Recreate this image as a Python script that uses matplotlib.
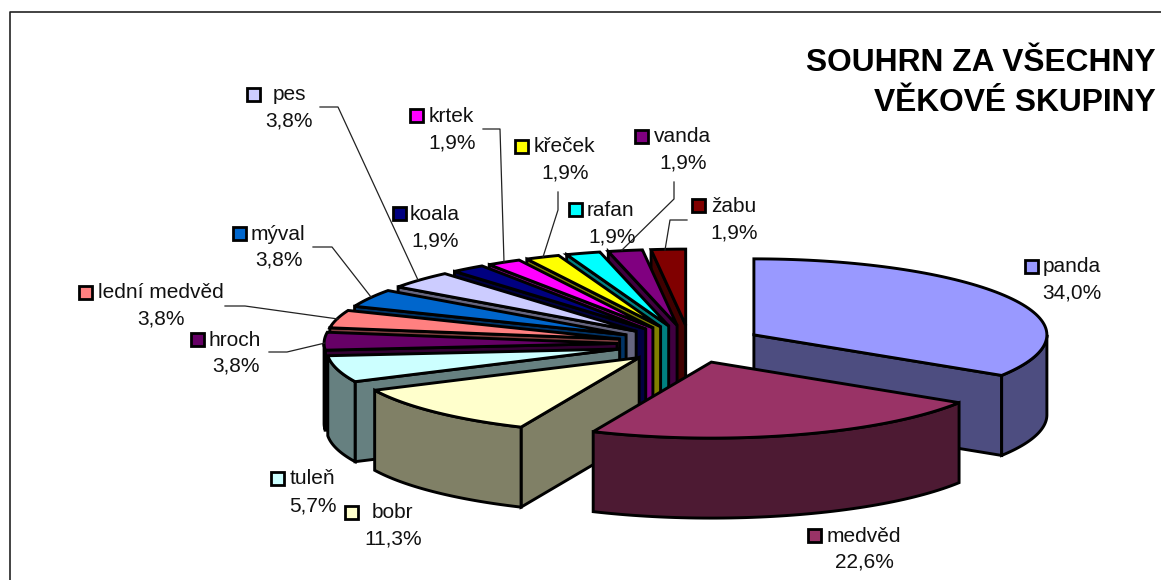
import numpy as np
import matplotlib
matplotlib.use("Agg")
import matplotlib.pyplot as plt
from matplotlib.patches import Polygon, Rectangle
from matplotlib.colors import to_rgb

plt.rcParams['font.family'] = ['Liberation Sans', 'DejaVu Sans']

categories = ["panda", "medvěd", "bobr", "tuleň", "hroch", "lední medvěd", "mýval",
              "pes", "koala", "krtek", "křeček", "rafan", "vanda", "žabu"]
counts = [18, 12, 6, 3, 2, 2, 2, 2, 1, 1, 1, 1, 1, 1]
colors = ["#9999FF", "#993366", "#FFFFCC", "#CCFFFF", "#660066", "#FF8080", "#0066CC",
          "#CCCCFF", "#000080", "#FF00FF", "#FFFF00", "#00FFFF", "#800080", "#800000"]
title_lines = ["SOUHRN ZA VŠECHNY", "VĚKOVÉ SKUPINY"]

# label layout: key centre x, name left x, name y, percent centre x, percent y
label_layout = {
    "panda": (1031, 1043, 267, 1072, 293), "medvěd": (814, 827, 536, 864, 562),
    "bobr": (351, 372, 513, 393, 539), "tuleň": (277, 290, 479, 313, 506),
    "hroch": (197, 209, 340, 236, 366), "lední medvěd": (85, 98, 293, 161, 319),
    "mýval": (239, 251, 234, 279, 260), "pes": (253, 273, 95, 289, 121),
    "koala": (399, 410, 214, 435, 241), "krtek": (416, 429, 116, 452, 143),
    "křeček": (521, 534, 147, 565, 173), "rafan": (575, 587, 210, 612, 237),
    "vanda": (641, 654, 137, 683, 163), "žabu": (698, 711, 206, 734, 233),
}
key_offset_y = -1
leaders = [
    [(320, 107), (338, 107), (418, 280)],
    [(483, 129), (500, 129), (504, 262)],
    [(558, 192), (558, 210), (543, 257)],
    [(674, 182), (674, 199), (622, 250)],
    [(687, 220), (670, 220), (665, 250)],
    [(313, 247), (332, 247), (371, 297)],
    [(225, 306), (245, 306), (338, 319)],
    [(269, 352), (287, 352), (325, 343)],
]

CX, CY, RX, RY, DEPTH, EXPLODE = 690, 344, 293, 76, 80, 0.249
LW = 2.1

fig = plt.figure(figsize=(11.61, 5.80), dpi=100, facecolor="white")
ax = fig.add_axes([0, 0, 1, 1])
ax.set_xlim(0, 1161)
ax.set_ylim(580, 0)
ax.axis("off")

ax.plot([9.5, 9.5, 1161], [580, 11.5, 11.5], color="#222222", lw=1.2, zorder=1)

values = np.array(counts, dtype=float)
edges = np.concatenate([[0], np.cumsum(values)]) / values.sum() * 2 * np.pi


def rim(ax0, ay0, t):
    return ax0 + RX * np.sin(t), ay0 - RY * np.cos(t)


order = sorted(range(len(values)), key=lambda i: -np.cos((edges[i] + edges[i + 1]) / 2))
z = 2
for i in order:
    a, b = edges[i], edges[i + 1]
    mid = (a + b) / 2
    ox = CX + EXPLODE * RX * np.sin(mid)
    oy = CY - EXPLODE * RY * np.cos(mid)
    face = np.array(to_rgb(colors[i]))
    side = face * 0.5
    style = dict(edgecolor="black", lw=LW, joinstyle="miter")
    # radial walls that face the viewer
    if np.sin(a) < 0:
        rx, ry = rim(ox, oy, a)
        ax.add_patch(Polygon([(ox, oy), (rx, ry), (rx, ry + DEPTH), (ox, oy + DEPTH)],
                             facecolor=side, zorder=z, **style))
        z += 1
    if np.sin(b) > 0:
        rx, ry = rim(ox, oy, b)
        ax.add_patch(Polygon([(ox, oy), (rx, ry), (rx, ry + DEPTH), (ox, oy + DEPTH)],
                             facecolor=side, zorder=z, **style))
        z += 1
    # outer curved wall, front half only
    lo, hi = max(a, np.pi / 2), min(b, 3 * np.pi / 2)
    if hi > lo:
        t = np.linspace(lo, hi, 60)
        xs, ys = rim(ox, oy, t)
        pts = list(zip(xs, ys)) + list(zip(xs[::-1], ys[::-1] + DEPTH))
        ax.add_patch(Polygon(pts, facecolor=side, zorder=z, **style))
        z += 1
    # top face
    t = np.linspace(a, b, 80)
    xs, ys = rim(ox, oy, t)
    ax.add_patch(Polygon([(ox, oy)] + list(zip(xs, ys)), facecolor=face, zorder=z, **style))
    z += 1

for path in leaders:
    xs, ys = zip(*path)
    ax.plot(xs, ys, color="#222222", lw=0.9, zorder=z)

FS = 15
total = values.sum()
for name, v, c in zip(categories, counts, colors):
    kx, nx, ny, px, py = label_layout[name]
    ax.add_patch(Rectangle((kx - 6.5, ny + key_offset_y - 6.5), 13, 13, facecolor=c,
                           edgecolor="black", lw=2.0, zorder=z + 1))
    ax.text(nx, ny, name, fontsize=FS, ha="left", va="center", color="#111111", zorder=z + 1)
    ax.text(px, py, f"{v / total * 100:.1f}".replace(".", ",") + "%", fontsize=FS,
            ha="center", va="center", color="#111111", zorder=z + 1)

ax.text(1156, 63, title_lines[0], fontsize=22.9, fontweight="bold", ha="right", va="center", color="black")
ax.text(1156, 103, title_lines[1], fontsize=22.9, fontweight="bold", ha="right", va="center", color="black")

fig.savefig("out.png", dpi=100, facecolor="white")
